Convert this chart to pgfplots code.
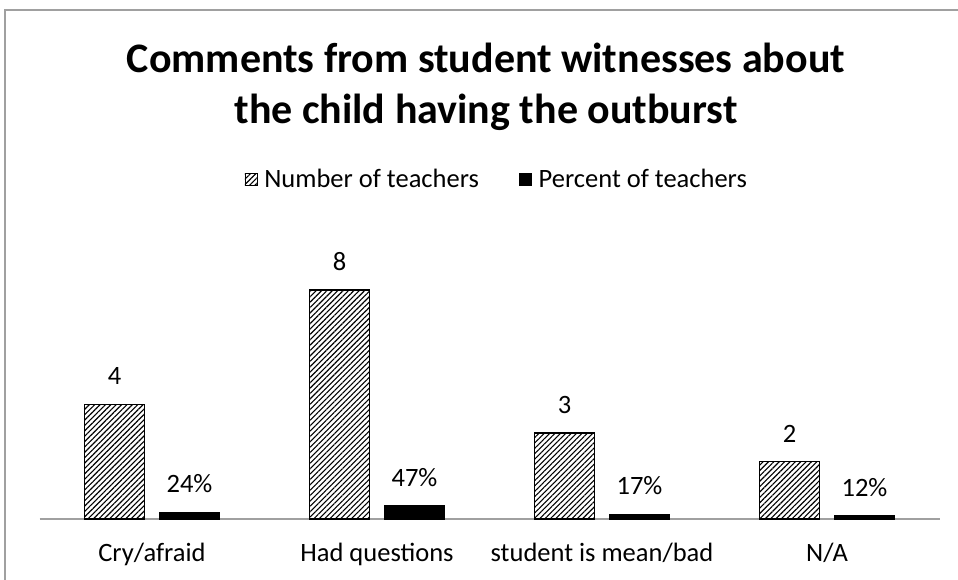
\documentclass[border=0pt]{standalone}
\usepackage{pgfplots}
\pgfplotsset{compat=1.18}
\usepackage{fontspec}
\setmainfont{Carlito}
\usetikzlibrary{patterns.meta}
\definecolor{axgray}{HTML}{A0A0A0}
\begin{document}
\begin{tikzpicture}[x=1pt,y=1pt]
\useasboundingbox (0,0) rectangle (958,580);
\begin{scope}
\clip (0,0) rectangle (958,580);
\draw[axgray, line width=1.3pt] (5,-10) rectangle (970,570);
\end{scope}
\node[anchor=base, font=\fontsize{42}{50}\selectfont\bfseries] at (486,507) {Comments from student witnesses about};
\node[anchor=base, font=\fontsize{42}{50}\selectfont\bfseries] at (486,456) {the child having the outburst};
\begin{axis}[
  at={(39.5pt,61pt)}, anchor=south west,
  scale only axis, width=900pt, height=272pt,
  xmin=-0.5, xmax=3.5, ymin=0, ymax=9.5,
  axis x line=bottom, axis y line=none,
  x axis line style={axgray, line width=1.4pt, -},
  ytick=\empty,
  xtick={0,1,2,3}, xticklabels={Cry/afraid, Had questions, student is mean/bad, N/A},
  major tick length=0pt,
  xticklabel style={font=\fontsize{26.5}{30}\selectfont, anchor=base, yshift=-43pt},
  ybar, bar width=60pt,
  nodes near coords, point meta=explicit symbolic,
  nodes near coords style={font=\fontsize{26.5}{30}\selectfont, anchor=base, yshift=19.5pt},
  legend style={at={(0.508,1.25)}, anchor=center, draw=none, fill=none,
    legend columns=2, font=\fontsize{26.5}{30}\selectfont,
    /tikz/every even column/.append style={column sep=38pt}},
  legend image code/.code={\draw[#1, line width=0.8pt] (0pt,-6pt) rectangle (12pt,6pt);},
  clip=false,
]
\addplot[bar shift=-37.5pt, draw=black, line width=1.5pt, pattern={Lines[angle=45, distance=3.8pt, line width=1.1pt]}, pattern color=black]
  coordinates {(0,4) [4] (1,8) [8] (2,3) [3] (3,2) [2]};
\addlegendentry{\hspace{5pt}Number of teachers}
\addplot[bar shift=37.5pt, draw=black, fill=black]
  coordinates {(0,0.24) [24\%] (1,0.47) [47\%] (2,0.17) [17\%] (3,0.12) [12\%]};
\addlegendentry{\hspace{5pt}Percent of teachers}
\end{axis}
\end{tikzpicture}
\end{document}
